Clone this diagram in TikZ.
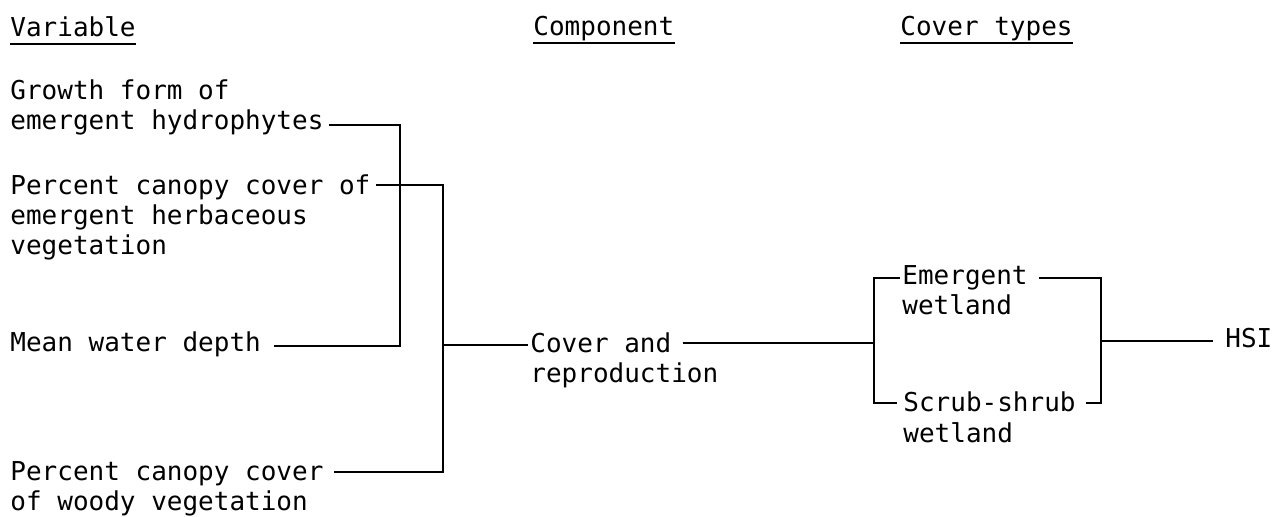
\documentclass[tikz,border=0pt]{standalone}
\usepackage{fontspec}
\setmonofont{DejaVu Sans Mono}

\begin{document}
\begin{tikzpicture}[x=0.5pt, y=-0.5pt,
  every node/.style={font=\ttfamily\fontsize{13}{15}\selectfont, inner sep=0pt,
                     anchor=base west, align=left},
  link/.style={draw=black, line width=0.9pt},
  rule/.style={draw=black, line width=0.8pt}
]
\useasboundingbox (0,0) rectangle (1272,517);

% column headings
\node (hvar)  at (10,37)  {Variable};
\node (hcomp) at (533,36) {Component};
\node (hcov)  at (900,36) {Cover types};
\foreach \h in {hvar,hcomp,hcov}
  \draw[rule] ([yshift=-3.5pt]\h.base west) -- ([yshift=-3.5pt]\h.base east);

% variables (placed at the baseline of their last line)
\node (growth) at (10,130) {Growth form of\\emergent hydrophytes};
\node (herb)   at (10,255) {Percent canopy cover of\\emergent herbaceous\\vegetation};
\node (depth)  at (10,352) {Mean water depth};
\node (woody)  at (10,510) {Percent canopy cover\\of woody vegetation};

% component and cover types
\node (comp)  at (530,353) {Cover and};
\node (comp2) at ([yshift=-15pt]comp.base west) {reproduction};
\node (emerg) at (902,315) {Emergent\\wetland};
\node (scrub) at (903,442) {Scrub-shrub\\wetland};
\node (hsi)   at (1225,348) {HSI};

\coordinate (compin) at ([xshift=-1pt,yshift=4pt]comp.base west);
\coordinate (hsiin)  at ([xshift=-6pt,yshift=3.5pt]hsi.base west);

\draw[link] ([xshift=2.5pt,yshift=2.5pt]growth.base east) -- ++(71,0)
            |- ([xshift=6.5pt,yshift=3pt]depth.base east);
\draw[link] ([xshift=2.5pt,yshift=35pt]herb.base east) -- ++(67,0) coordinate (bus)
            |- ([xshift=5pt,yshift=19pt]woody.base east);
\draw[link] (compin -| bus) -- (compin);

\draw[link] ([xshift=5.5pt,yshift=5pt]comp.base east) -- ++(191,0) coordinate (fork);
\draw[link] ([xshift=-1pt,yshift=18.5pt]emerg.base west) -| (fork)
            |- ([xshift=-3pt,yshift=19.5pt]scrub.base west);
\draw[link] ([xshift=5.5pt,yshift=18.5pt]emerg.base east) -- ++(62,0) coordinate (merge)
            |- ([xshift=5pt,yshift=19.5pt]scrub.base east);
\draw[link] (hsiin -| merge) -- (hsiin);
\end{tikzpicture}
\end{document}
